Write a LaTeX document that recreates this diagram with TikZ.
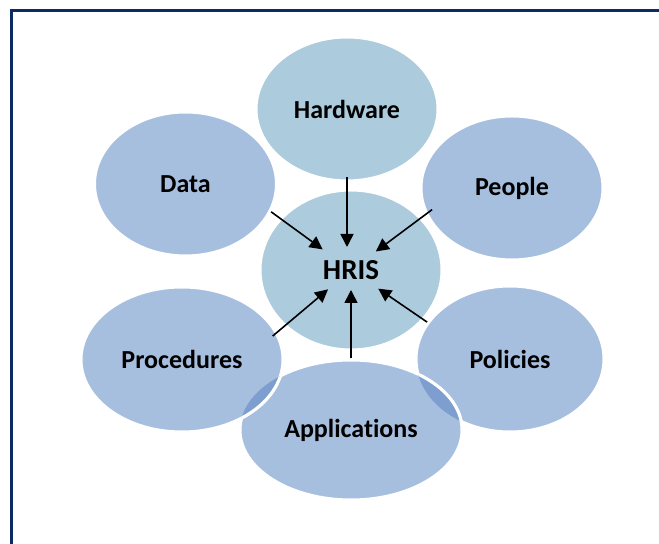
\documentclass[tikz,border=0pt]{standalone}
\usepackage{fontspec}
\setmainfont{Carlito}[Ligatures=NoCommon]
\usepackage{tikz}
\usetikzlibrary{arrows.meta,positioning,shapes.geometric}
\usepackage{xcolor}

\definecolor{hrisblue}{RGB}{172,204,221}
\definecolor{ringblue}{RGB}{167,191,223}
\definecolor{lensblue}{RGB}{125,158,206}
\definecolor{framenavy}{RGB}{12,42,102}

\begin{document}
\begin{tikzpicture}[
      x=0.5pt, y=-0.5pt,
      every node/.style={font=\fontsize{13}{15}\selectfont\bfseries},
      petal/.style={ellipse, fill=ringblue, draw=white, line width=1.5pt,
                    minimum width=91pt, minimum height=72pt, inner sep=0pt},
      core/.style={petal, fill=hrisblue},
      lens/.style={fill=lensblue},
      rim/.style={draw=white, line width=1.5pt},
      arr/.style={-{Triangle[length=6.5pt, width=6.5pt]}, line width=0.8pt,
                  color=black},
      frame/.style={draw=framenavy, line width=1.5pt},
    ]
    \useasboundingbox (0,0) rectangle (659,544);

    % ── Outer ring ──────────────────────────────────────────
    \node[petal] (data)   at (185.5,184) {Data};
    \node[petal] (people) at (512,188)   {People};

    % ── Centre ──────────────────────────────────────────────
    \node[core, minimum height=80pt,
          font=\fontsize{14.5}{17}\selectfont\bfseries] (hris) at (351,270) {HRIS};
    \node[core, above=3pt of hris, xshift=-2pt] (hw) {Hardware};

    % ── Lower ring ──────────────────────────────────────────
    \node[petal, minimum width=94pt, minimum height=73pt]
      (policies) at (510,359) {Policies};
    \node[petal, below=3.5pt of hris, minimum width=111pt, minimum height=70pt]
      (apps) {Applications};
    \node[petal, minimum width=101pt, minimum height=72.5pt]
      (procedures) at (182,359.5) {Procedures};

    % ── Overlaps ────────────────────────────────────────────
    \begin{scope}
      \clip (policies.center) ellipse [x radius=47pt, y radius=36.5pt];
      \fill[lens] (apps.center) ellipse [x radius=55.5pt, y radius=35pt];
      \draw[rim] (apps.center) ellipse [x radius=55.5pt, y radius=35pt];
    \end{scope}
    \begin{scope}
      \clip (apps.center) ellipse [x radius=55.5pt, y radius=35pt];
      \fill[lens] (procedures.center) ellipse [x radius=50.5pt, y radius=36.25pt];
      \draw[rim] (procedures.center) ellipse [x radius=50.5pt, y radius=36.25pt];
    \end{scope}

    % ── Arrows ──────────────────────────────────────────────
    \draw[arr, shorten <=-2.5pt, shorten >=11.5pt] (hw.south) -- (hw.south |- hris.center);
    \draw[arr, shorten >=17.5pt] (data.-18) -- (hris.center);
    \draw[arr, shorten <=-4pt, shorten >=15.5pt] (people.197) -- (hris.center);
    \draw[arr, shorten <=-3pt, shorten >=15pt] (procedures.16) -- (hris.center);
    \draw[arr, shorten >=10pt] (apps.north) -- (apps.north |- hris.center);
    \draw[arr, shorten >=16.5pt] (policies.156) -- (hris.center);

    % ── Frame ───────────────────────────────────────────────
    \draw[frame] (659,11) -- (11.5,11) -- (11.5,544);
  \end{tikzpicture}
\end{document}
